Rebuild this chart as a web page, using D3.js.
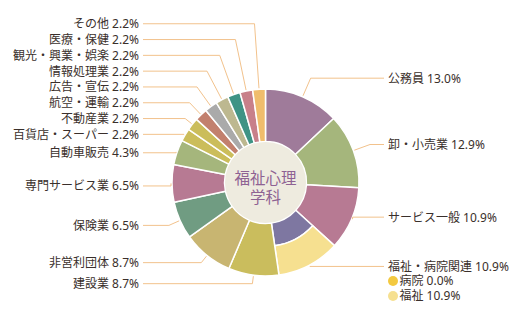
<!DOCTYPE html>
<html><head><meta charset="utf-8">
<script src="https://cdn.jsdelivr.net/npm/d3@7"></script>
<style>html,body{margin:0;padding:0;background:#fff;} svg{display:block;}</style>
</head><body><svg id="chart" width="525" height="320"></svg>
<script>
// ---- data ----
const categories = ["公務員","卸・小売業","サービス一般","福祉・病院関連","建設業","非営利団体","保険業","専門サービス業","自動車販売","百貨店・スーパー","不動産業","航空・運輸","広告・宣伝","情報処理業","観光・興業・娯楽","医療・保健","その他"];
const values = [13.0,12.9,10.9,10.9,8.7,8.7,6.5,6.5,4.3,2.2,2.2,2.2,2.2,2.2,2.2,2.2,2.2];
const colors = ["#9f7b9a","#a5b67c","#b77a93","#7e77a1","#cabd5d","#c8b571","#709c82","#b77a93","#a5b67c","#cbbd5b","#cbbd5b","#c2806e","#aaaaaa","#bdb890","#3f9385","#c8808a","#f0bd6c"];
const subParent = "福祉・病院関連";
const subCategories = ["病院","福祉"];
const subValues = [0.0, 10.9];
const subColors = ["#f3c940","#f6e090"];
const centerTitle = ["福祉心理","学科"];

// ---- layout ----
const W = 525, H = 320;
const cx = 265.5, cy = 182.5;
const R = 93.5, r0 = 41, rMid = 64;
const font = "'Noto Sans','Noto Sans CJK JP',sans-serif";
const textColor = "#3a2f2b";
const lineColor = "#f2c28c";
const labelGap = 15.8;
const labelNudge = {"公務員": -9};

const svg = d3.select("#chart");
const g = svg.append("g").attr("transform", `translate(${cx},${cy})`);

const pie = d3.pie().sort(null).value(d => d);
const arcs = pie(values);
const arcFull = d3.arc().innerRadius(r0).outerRadius(R);
const arcInner = d3.arc().innerRadius(r0).outerRadius(rMid);
const arcOuter = d3.arc().innerRadius(rMid).outerRadius(R);

arcs.forEach((a, i) => {
  const isParent = categories[i] === subParent;
  g.append("path")
    .attr("d", isParent ? arcInner(a) : arcFull(a))
    .attr("fill", colors[i])
    .attr("stroke", "#fff").attr("stroke-width", 1.5).attr("stroke-linejoin", "round");
  if (isParent) {
    const subArcs = d3.pie().sort(null).value(d => d)
      .startAngle(a.startAngle).endAngle(a.endAngle)(subValues);
    subArcs.forEach((s, j) => {
      if (s.endAngle - s.startAngle <= 0) return;
      g.append("path").attr("d", arcOuter(s)).attr("fill", subColors[j])
        .attr("stroke", "#fff").attr("stroke-width", 1.5).attr("stroke-linejoin", "round");
    });
  }
});

// center
g.append("circle").attr("r", r0 - 0.5).attr("fill", "#eeebdf");
centerTitle.forEach((t, i) => {
  g.append("text").text(t).attr("x", 0).attr("y", -4.5 + i * 18.5)
    .attr("text-anchor", "middle").attr("dominant-baseline", "central")
    .attr("font-family", font).attr("font-size", 15.5).attr("fill", "#8e6293");
});

// labels
const items = arcs.map((a, i) => {
  const mid = (a.startAngle + a.endAngle) / 2;
  const side = mid < Math.PI ? "right" : "left";
  const y = cy - (R + 6) * Math.cos(mid) + (side === "left" ? 2.5 : -4);
  return {i, mid, side, y};
});
const left = items.filter(d => d.side === "left").sort((a, b) => b.y - a.y);
for (let k = 1; k < left.length; k++) left[k].y = Math.min(left[k].y, left[k-1].y - labelGap);
const right = items.filter(d => d.side === "right").sort((a, b) => a.y - b.y);
for (let k = 1; k < right.length; k++) right[k].y = Math.max(right[k].y, right[k-1].y + labelGap);
items.forEach(d => { d.y += (labelNudge[categories[d.i]] || 0); });

const lx = {right: 388, left: 139};
const lineEnd = {right: 384, left: 143};

items.forEach(d => {
  const s = Math.sin(d.mid), c = Math.cos(d.mid);
  const p0 = [cx + (R + 1) * s, cy - (R + 1) * c];
  let elbow;
  const re = Math.abs(c) > 1e-3 ? (cy - d.y) / c : -1;
  if (re > R + 1 && re < R + 90) elbow = [cx + re * s, d.y];
  else elbow = [p0[0], d.y];
  const pts = [p0, elbow, [lineEnd[d.side], d.y]];
  svg.append("path").attr("d", d3.line()(pts))
    .attr("fill", "none").attr("stroke", lineColor).attr("stroke-width", 1);
  svg.append("text")
    .text(categories[d.i] + " " + values[d.i].toFixed(1) + "%")
    .attr("x", lx[d.side]).attr("y", d.y)
    .attr("text-anchor", d.side === "right" ? "start" : "end")
    .attr("dominant-baseline", "central")
    .attr("font-family", font).attr("font-size", 12).attr("fill", textColor);
  if (categories[d.i] === subParent) {
    subCategories.forEach((sc, j) => {
      const yy = d.y + 14.5 + j * 15;
      svg.append("circle").attr("cx", lx.right + 5).attr("cy", yy).attr("r", 5).attr("fill", subColors[j]);
      svg.append("text").text(sc + " " + subValues[j].toFixed(1) + "%")
        .attr("x", lx.right + 11.5).attr("y", yy).attr("dominant-baseline", "central")
        .attr("font-family", font).attr("font-size", 12).attr("fill", textColor);
    });
  }
});
</script>
</body></html>
